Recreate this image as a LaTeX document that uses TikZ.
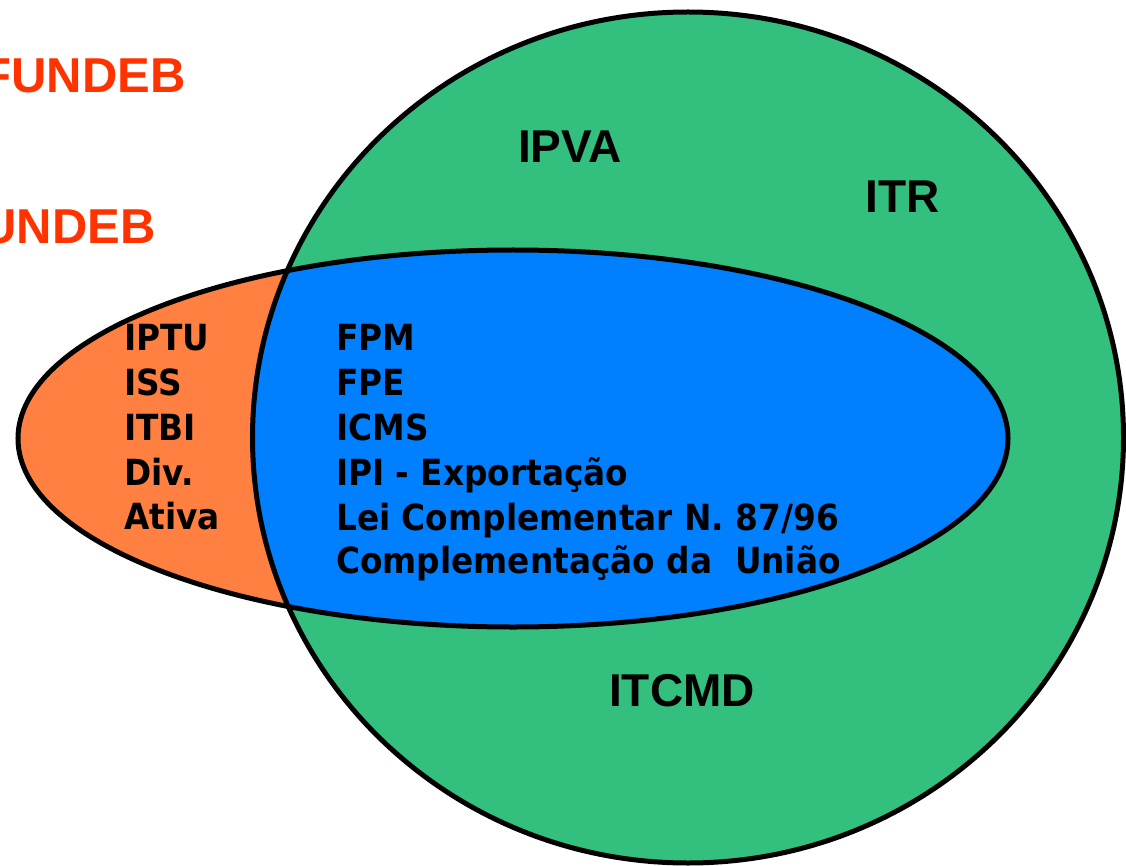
\documentclass[tikz,border=0pt]{standalone}
\usepackage{fontspec}
\newfontfamily\arl{Liberation Sans}
\newfontfamily\tah{DejaVu Sans}[FakeStretch=0.91]
\definecolor{cgreen}{RGB}{51,192,126}
\definecolor{cblue}{RGB}{0,128,255}
\definecolor{corange}{RGB}{255,128,64}
\definecolor{cred}{RGB}{255,51,0}
\tikzset{
  outline/.style={draw=black,line width=5pt},
  redlbl/.style={inner sep=0pt,anchor=base east,text=cred,font=\arl\bfseries\fontsize{49}{49}\selectfont},
  biglbl/.style={inner sep=0pt,anchor=base west,font=\arl\bfseries\fontsize{46}{46}\selectfont},
  inlbl/.style={inner sep=0pt,anchor=base west,font=\tah\bfseries\fontsize{36}{36}\selectfont},
}
\begin{document}
\begin{tikzpicture}[x=1pt,y=-1pt]
\useasboundingbox (0,0) rectangle (1126,866);
\clip (0,0) rectangle (1126,866);
% green circle
\fill[cgreen] (688,437.5) ellipse [x radius=435.5, y radius=425.5];
% orange ellipse
\fill[corange] (513,438.5) ellipse [x radius=495, y radius=188.5];
% blue intersection
\begin{scope}
\clip (688,437.5) ellipse [x radius=435.5, y radius=425.5];
\fill[cblue] (513,438.5) ellipse [x radius=495, y radius=188.5];
\end{scope}
\draw[outline] (688,437.5) ellipse [x radius=435.5, y radius=425.5];
\draw[outline] (513,438.5) ellipse [x radius=495, y radius=188.5];
% red labels
\node[redlbl] (f1) at (186,93) {FUNDEB};
\node[redlbl] (f2) at (156,244) {UNDEB};
% green labels
\node[biglbl] (ipva) at (518,163) {IPVA};
\node[biglbl] (itr) at (865,213) {ITR};
\node[biglbl] (itcmd) at (609,706) {ITCMD};
% orange labels
\node[inlbl] (o1) at (124,350) {IPTU};
\node[inlbl] (o2) at (124,395) {ISS};
\node[inlbl] (o3) at (124,440) {ITBI};
\node[inlbl] (o4) at (124,485) {Div.};
\node[inlbl] (o5) at (124,529) {Ativa};
% blue labels
\node[inlbl] (b1) at (336,350) {FPM};
\node[inlbl] (b2) at (336,395) {FPE};
\node[inlbl] (b3) at (336,440) {ICMS};
\node[inlbl] (b4) at (336,485) {IPI - Exportação};
\node[inlbl] (b5) at (336,530) {Lei Complementar N. 87/96};
\node[inlbl] (b6) at (336,573) {Complementação da\ \ União};
\end{tikzpicture}
\end{document}
